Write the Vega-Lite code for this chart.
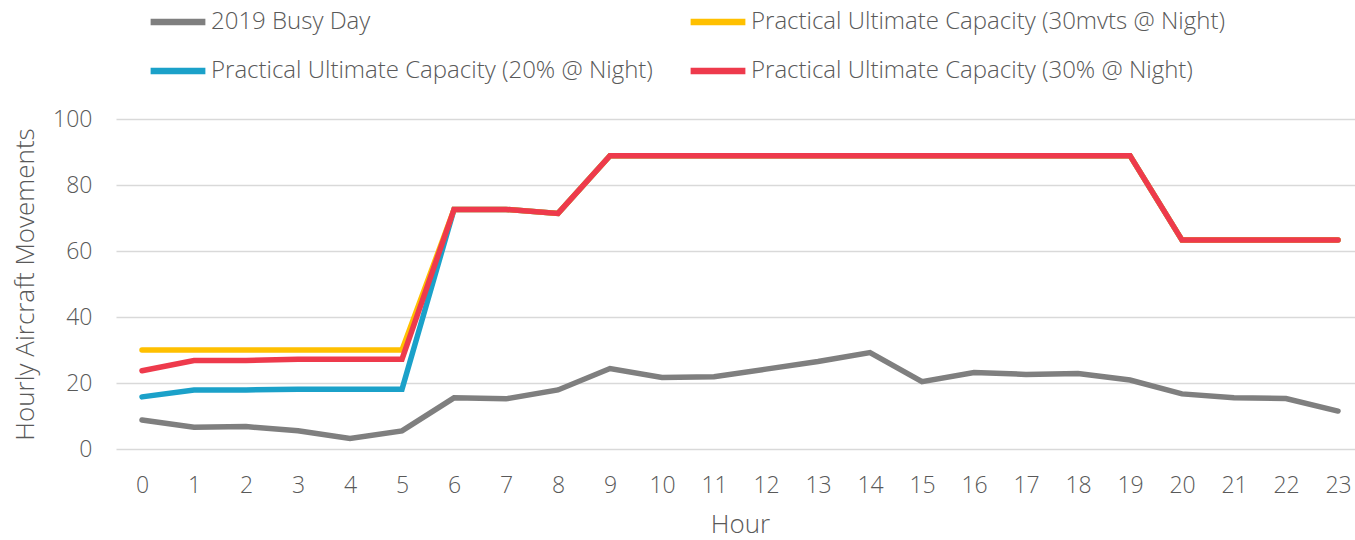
{
  "$schema": "https://vega.github.io/schema/vega-lite/v6.json",
  "width": 1248,
  "height": 330,
  "padding": {"left": 116, "top": 119, "right": 0, "bottom": 91},
  "autosize": {"type": "none"},
  "background": "white",
  "config": {
    "font": "Open Sans",
    "view": {"stroke": null},
    "axis": {"labelFont": "Open Sans", "titleFont": "Open Sans", "labelFontWeight": 300, "titleFontWeight": 300, "labelColor": "#595959", "titleColor": "#595959"},
    "legend": {"labelFont": "Open Sans", "labelFontWeight": 300}
  },
  "data": {
    "values": [
      {"hour": 0, "series": "2019 Busy Day", "value": 8.8},
      {"hour": 1, "series": "2019 Busy Day", "value": 6.6},
      {"hour": 2, "series": "2019 Busy Day", "value": 6.8},
      {"hour": 3, "series": "2019 Busy Day", "value": 5.5},
      {"hour": 4, "series": "2019 Busy Day", "value": 3.2},
      {"hour": 5, "series": "2019 Busy Day", "value": 5.5},
      {"hour": 6, "series": "2019 Busy Day", "value": 15.5},
      {"hour": 7, "series": "2019 Busy Day", "value": 15.2},
      {"hour": 8, "series": "2019 Busy Day", "value": 17.9},
      {"hour": 9, "series": "2019 Busy Day", "value": 24.4},
      {"hour": 10, "series": "2019 Busy Day", "value": 21.7},
      {"hour": 11, "series": "2019 Busy Day", "value": 21.9},
      {"hour": 12, "series": "2019 Busy Day", "value": 24.2},
      {"hour": 13, "series": "2019 Busy Day", "value": 26.5},
      {"hour": 14, "series": "2019 Busy Day", "value": 29.2},
      {"hour": 15, "series": "2019 Busy Day", "value": 20.4},
      {"hour": 16, "series": "2019 Busy Day", "value": 23.2},
      {"hour": 17, "series": "2019 Busy Day", "value": 22.6},
      {"hour": 18, "series": "2019 Busy Day", "value": 22.9},
      {"hour": 19, "series": "2019 Busy Day", "value": 20.9},
      {"hour": 20, "series": "2019 Busy Day", "value": 16.7},
      {"hour": 21, "series": "2019 Busy Day", "value": 15.5},
      {"hour": 22, "series": "2019 Busy Day", "value": 15.3},
      {"hour": 23, "series": "2019 Busy Day", "value": 11.5},

      {"hour": 0, "series": "Practical Ultimate Capacity (20% @ Night)", "value": 15.8},
      {"hour": 1, "series": "Practical Ultimate Capacity (20% @ Night)", "value": 17.9},
      {"hour": 2, "series": "Practical Ultimate Capacity (20% @ Night)", "value": 17.9},
      {"hour": 3, "series": "Practical Ultimate Capacity (20% @ Night)", "value": 18.1},
      {"hour": 4, "series": "Practical Ultimate Capacity (20% @ Night)", "value": 18.1},
      {"hour": 5, "series": "Practical Ultimate Capacity (20% @ Night)", "value": 18.1},
      {"hour": 6, "series": "Practical Ultimate Capacity (20% @ Night)", "value": 72.6},
      {"hour": 7, "series": "Practical Ultimate Capacity (20% @ Night)", "value": 72.6},
      {"hour": 8, "series": "Practical Ultimate Capacity (20% @ Night)", "value": 71.4},
      {"hour": 9, "series": "Practical Ultimate Capacity (20% @ Night)", "value": 88.9},
      {"hour": 10, "series": "Practical Ultimate Capacity (20% @ Night)", "value": 88.9},
      {"hour": 11, "series": "Practical Ultimate Capacity (20% @ Night)", "value": 88.9},
      {"hour": 12, "series": "Practical Ultimate Capacity (20% @ Night)", "value": 88.9},
      {"hour": 13, "series": "Practical Ultimate Capacity (20% @ Night)", "value": 88.9},
      {"hour": 14, "series": "Practical Ultimate Capacity (20% @ Night)", "value": 88.9},
      {"hour": 15, "series": "Practical Ultimate Capacity (20% @ Night)", "value": 88.9},
      {"hour": 16, "series": "Practical Ultimate Capacity (20% @ Night)", "value": 88.9},
      {"hour": 17, "series": "Practical Ultimate Capacity (20% @ Night)", "value": 88.9},
      {"hour": 18, "series": "Practical Ultimate Capacity (20% @ Night)", "value": 88.9},
      {"hour": 19, "series": "Practical Ultimate Capacity (20% @ Night)", "value": 88.9},
      {"hour": 20, "series": "Practical Ultimate Capacity (20% @ Night)", "value": 63.3},
      {"hour": 21, "series": "Practical Ultimate Capacity (20% @ Night)", "value": 63.3},
      {"hour": 22, "series": "Practical Ultimate Capacity (20% @ Night)", "value": 63.3},
      {"hour": 23, "series": "Practical Ultimate Capacity (20% @ Night)", "value": 63.3},

      {"hour": 0, "series": "Practical Ultimate Capacity (30mvts @ Night)", "value": 30},
      {"hour": 1, "series": "Practical Ultimate Capacity (30mvts @ Night)", "value": 30},
      {"hour": 2, "series": "Practical Ultimate Capacity (30mvts @ Night)", "value": 30},
      {"hour": 3, "series": "Practical Ultimate Capacity (30mvts @ Night)", "value": 30},
      {"hour": 4, "series": "Practical Ultimate Capacity (30mvts @ Night)", "value": 30},
      {"hour": 5, "series": "Practical Ultimate Capacity (30mvts @ Night)", "value": 30},
      {"hour": 6, "series": "Practical Ultimate Capacity (30mvts @ Night)", "value": 72.6},
      {"hour": 7, "series": "Practical Ultimate Capacity (30mvts @ Night)", "value": 72.6},
      {"hour": 8, "series": "Practical Ultimate Capacity (30mvts @ Night)", "value": 71.4},
      {"hour": 9, "series": "Practical Ultimate Capacity (30mvts @ Night)", "value": 88.9},
      {"hour": 10, "series": "Practical Ultimate Capacity (30mvts @ Night)", "value": 88.9},
      {"hour": 11, "series": "Practical Ultimate Capacity (30mvts @ Night)", "value": 88.9},
      {"hour": 12, "series": "Practical Ultimate Capacity (30mvts @ Night)", "value": 88.9},
      {"hour": 13, "series": "Practical Ultimate Capacity (30mvts @ Night)", "value": 88.9},
      {"hour": 14, "series": "Practical Ultimate Capacity (30mvts @ Night)", "value": 88.9},
      {"hour": 15, "series": "Practical Ultimate Capacity (30mvts @ Night)", "value": 88.9},
      {"hour": 16, "series": "Practical Ultimate Capacity (30mvts @ Night)", "value": 88.9},
      {"hour": 17, "series": "Practical Ultimate Capacity (30mvts @ Night)", "value": 88.9},
      {"hour": 18, "series": "Practical Ultimate Capacity (30mvts @ Night)", "value": 88.9},
      {"hour": 19, "series": "Practical Ultimate Capacity (30mvts @ Night)", "value": 88.9},
      {"hour": 20, "series": "Practical Ultimate Capacity (30mvts @ Night)", "value": 63.3},
      {"hour": 21, "series": "Practical Ultimate Capacity (30mvts @ Night)", "value": 63.3},
      {"hour": 22, "series": "Practical Ultimate Capacity (30mvts @ Night)", "value": 63.3},
      {"hour": 23, "series": "Practical Ultimate Capacity (30mvts @ Night)", "value": 63.3},

      {"hour": 0, "series": "Practical Ultimate Capacity (30% @ Night)", "value": 23.7},
      {"hour": 1, "series": "Practical Ultimate Capacity (30% @ Night)", "value": 26.8},
      {"hour": 2, "series": "Practical Ultimate Capacity (30% @ Night)", "value": 26.8},
      {"hour": 3, "series": "Practical Ultimate Capacity (30% @ Night)", "value": 27.2},
      {"hour": 4, "series": "Practical Ultimate Capacity (30% @ Night)", "value": 27.2},
      {"hour": 5, "series": "Practical Ultimate Capacity (30% @ Night)", "value": 27.2},
      {"hour": 6, "series": "Practical Ultimate Capacity (30% @ Night)", "value": 72.6},
      {"hour": 7, "series": "Practical Ultimate Capacity (30% @ Night)", "value": 72.6},
      {"hour": 8, "series": "Practical Ultimate Capacity (30% @ Night)", "value": 71.4},
      {"hour": 9, "series": "Practical Ultimate Capacity (30% @ Night)", "value": 88.9},
      {"hour": 10, "series": "Practical Ultimate Capacity (30% @ Night)", "value": 88.9},
      {"hour": 11, "series": "Practical Ultimate Capacity (30% @ Night)", "value": 88.9},
      {"hour": 12, "series": "Practical Ultimate Capacity (30% @ Night)", "value": 88.9},
      {"hour": 13, "series": "Practical Ultimate Capacity (30% @ Night)", "value": 88.9},
      {"hour": 14, "series": "Practical Ultimate Capacity (30% @ Night)", "value": 88.9},
      {"hour": 15, "series": "Practical Ultimate Capacity (30% @ Night)", "value": 88.9},
      {"hour": 16, "series": "Practical Ultimate Capacity (30% @ Night)", "value": 88.9},
      {"hour": 17, "series": "Practical Ultimate Capacity (30% @ Night)", "value": 88.9},
      {"hour": 18, "series": "Practical Ultimate Capacity (30% @ Night)", "value": 88.9},
      {"hour": 19, "series": "Practical Ultimate Capacity (30% @ Night)", "value": 88.9},
      {"hour": 20, "series": "Practical Ultimate Capacity (30% @ Night)", "value": 63.3},
      {"hour": 21, "series": "Practical Ultimate Capacity (30% @ Night)", "value": 63.3},
      {"hour": 22, "series": "Practical Ultimate Capacity (30% @ Night)", "value": 63.3},
      {"hour": 23, "series": "Practical Ultimate Capacity (30% @ Night)", "value": 63.3}
    ]
  },
  "mark": {"type": "line", "strokeWidth": 5.5, "strokeCap": "round", "strokeJoin": "miter"},
  "encoding": {
    "x": {
      "field": "hour",
      "type": "ordinal",
      "scale": {"type": "point", "padding": 0.5},
      "axis": {
        "title": "Hour",
        "labelAngle": 0,
        "labelFontSize": 23,
        "titleFontSize": 26,
        "ticks": false,
        "domain": false,
        "grid": false,
        "labelPadding": 25,
        "titlePadding": 14
      }
    },
    "y": {
      "field": "value",
      "type": "quantitative",
      "scale": {"domain": [0, 100]},
      "axis": {
        "title": "Hourly Aircraft Movements",
        "values": [0, 20, 40, 60, 80, 100],
        "labelFontSize": 23,
        "titleFontSize": 26,
        "ticks": false,
        "domain": false,
        "grid": true,
        "gridColor": "#d9d9d9",
        "gridWidth": 1.5,
        "labelPadding": 24,
        "titlePadding": 14
      }
    },
    "color": {
      "field": "series",
      "type": "nominal",
      "scale": {
        "domain": ["2019 Busy Day", "Practical Ultimate Capacity (20% @ Night)", "Practical Ultimate Capacity (30mvts @ Night)", "Practical Ultimate Capacity (30% @ Night)"],
        "range": ["#7f7f7f", "#1ba1c9", "#ffc000", "#ee3a4c"]
      },
      "legend": {
        "title": null,
        "orient": "none",
        "legendX": 31,
        "legendY": -128,
        "columns": 2,
        "columnPadding": 24,
        "rowPadding": 5,
        "symbolType": "stroke",
        "symbolSize": 3000,
        "symbolStrokeWidth": 6.5,
        "labelFontSize": 24,
        "labelColor": "#595959",
        "labelOffset": 2,
        "labelLimit": 600
      }
    }
  }
}
